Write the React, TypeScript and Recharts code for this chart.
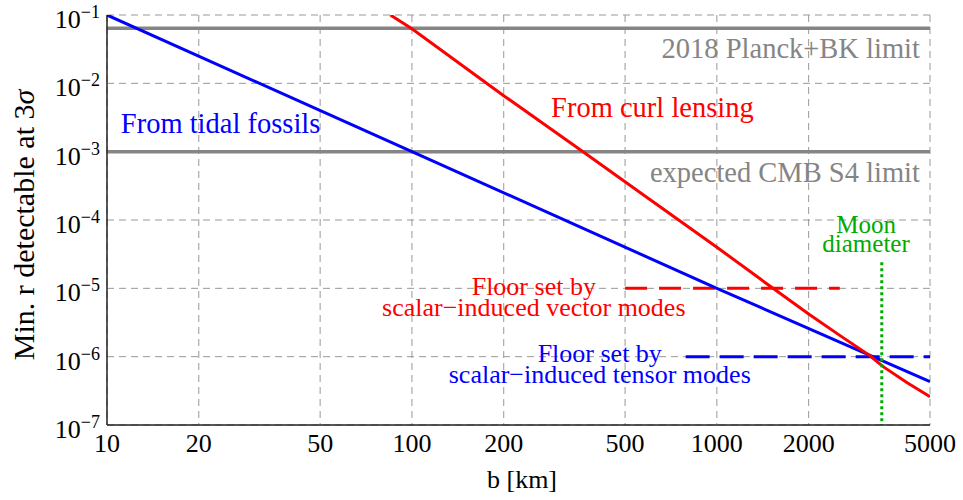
import {
  LineChart,
  Line,
  XAxis,
  YAxis,
  CartesianGrid,
  ReferenceLine,
  ReferenceDot,
} from "recharts"

// b in km, r = minimum tensor-to-scalar ratio detectable at 3 sigma
const bTicks = [10, 20, 50, 100, 200, 500, 1000, 2000, 5000]
const bMinorTicks = [30, 40, 60, 70, 80, 90, 300, 400, 600, 700, 800, 900, 3000, 4000]
const rTicks = [1e-7, 1e-6, 1e-5, 1e-4, 1e-3, 1e-2, 1e-1]
const rMantissas = [2, 3, 4, 5, 6, 7, 8, 9]
const rMinorTicks = rTicks.slice(0, -1).flatMap((d) => rMantissas.map((m) => m * d))

const tidalFossils = [
  { b: 10, r: 0.1 },
  { b: 100, r: 1e-3 },
  { b: 1000, r: 1e-5 },
  { b: 5000, r: 4.3e-7 },
]

const curlLensing = [
  { b: 85, r: 0.1 },
  { b: 100, r: 0.063 },
  { b: 200, r: 6.6e-3 },
  { b: 364, r: 1e-3 },
  { b: 603, r: 2e-4 },
  { b: 1000, r: 4e-5 },
  { b: 1528, r: 1e-5 },
  { b: 2000, r: 4.2e-6 },
  { b: 2529, r: 2.05e-6 },
  { b: 3177, r: 1.03e-6 },
  { b: 3501, r: 7.2e-7 },
  { b: 4197, r: 4.2e-7 },
  { b: 4632, r: 3.2e-7 },
  { b: 5000, r: 2.6e-7 },
]

const vectorFloor = [
  { b: 500, r: 1e-5 },
  { b: 2530, r: 1e-5 },
]

const tensorFloor = [
  { b: 790, r: 1e-6 },
  { b: 5000, r: 1e-6 },
]

const moonDiameter = [
  { b: 3474, r: 2.4e-5 },
  { b: 3474, r: 1e-7 },
]

const planckBkLimit = 0.064
const cmbS4Limit = 1e-3

const serif = '"Liberation Serif", "Times New Roman", "DejaVu Serif", serif'
const frame = "#222"
const blank = () => <g />

const XTick = ({ x, y, payload }: any) => (
  <text x={x} y={y + 27} textAnchor="middle" fontSize={26} style={{ fontFamily: serif }} fill="#000">
    {payload.value}
  </text>
)

const YTick = ({ x, y, payload }: any) => {
  const exp = Math.round(Math.log10(payload.value))
  return (
    <text x={x - 7} y={y + 13} textAnchor="end" fontSize={26} style={{ fontFamily: serif }} fill="#000">
      10
      <tspan dy={-10} fontSize={18}>
        {String(exp).replace("-", "\u2212")}
      </tspan>
    </text>
  )
}

const note =
  (lines: string[], color: string, anchor: "start" | "middle" | "end", size = 26, gap = 21) =>
  ({ viewBox }: any) => {
    const x = viewBox.x + viewBox.width / 2
    const y = viewBox.y + viewBox.height / 2
    const top = y - ((lines.length - 1) * gap) / 2
    return (
      <text
        x={x}
        y={top}
        textAnchor={anchor}
        dominantBaseline="central"
        fontSize={size}
        style={{ fontFamily: serif }}
        fill={color}
      >
        {lines.map((t, i) => (
          <tspan key={i} x={x} y={top + i * gap}>
            {t}
          </tspan>
        ))}
      </text>
    )
  }

const logX = { type: "number" as const, scale: "log" as const, domain: [10, 5000], allowDataOverflow: true }
const logY = { type: "number" as const, scale: "log" as const, domain: [1e-7, 0.1], allowDataOverflow: true }

export default function App() {
  return (
    <div style={{ position: "absolute", left: 0, top: 0, background: "#fff", fontFamily: serif }}>
      <LineChart width={963} height={500} margin={{ top: 15, right: 33, bottom: 0, left: 0 }}>
        <CartesianGrid stroke="#999" strokeDasharray="7 5" />

        <XAxis
          {...logX}
          dataKey="b"
          ticks={bTicks}
          interval={0}
          height={75}
          tickSize={0}
          tickMargin={0}
          tickLine={false}
          axisLine={{ stroke: frame, strokeWidth: 1.5 }}
          tick={XTick}
          label={{
            content: () => (
              <text x={522} y={479} textAnchor="middle" dominantBaseline="central" fontSize={26} style={{ fontFamily: serif }}>
                b [km]
              </text>
            ),
          }}
        />
        <XAxis {...logX} xAxisId="bMaj" dataKey="b" mirror height={0} ticks={bTicks} interval={0} tickSize={8} axisLine={false} tickLine={{ stroke: frame }} tick={blank} />
        <XAxis {...logX} xAxisId="bMin" dataKey="b" mirror height={0} ticks={bMinorTicks} interval={0} tickSize={4} axisLine={false} tickLine={{ stroke: frame }} tick={blank} />
        <XAxis {...logX} xAxisId="tMaj" dataKey="b" orientation="top" mirror height={0} ticks={bTicks} interval={0} tickSize={8} axisLine={{ stroke: frame, strokeWidth: 1.5 }} tickLine={{ stroke: frame }} tick={blank} />
        <XAxis {...logX} xAxisId="tMin" dataKey="b" orientation="top" mirror height={0} ticks={bMinorTicks} interval={0} tickSize={4} axisLine={false} tickLine={{ stroke: frame }} tick={blank} />

        <YAxis
          {...logY}
          dataKey="r"
          ticks={rTicks}
          interval={0}
          width={107}
          tickSize={0}
          tickMargin={0}
          tickLine={false}
          axisLine={{ stroke: frame, strokeWidth: 1.5 }}
          tick={YTick}
          label={{
            content: () => (
              <text
                x={23}
                y={225}
                transform="rotate(-90 23 225)"
                textAnchor="middle"
                dominantBaseline="central"
                fontSize={30}
                style={{ fontFamily: serif }}
              >
                Min. r detectable at 3<tspan fontStyle="italic">σ</tspan>
              </text>
            ),
          }}
        />
        <YAxis {...logY} yAxisId="lMaj" dataKey="r" mirror width={0} ticks={rTicks} interval={0} tickSize={8} axisLine={false} tickLine={{ stroke: frame }} tick={blank} />
        <YAxis {...logY} yAxisId="lMin" dataKey="r" mirror width={0} ticks={rMinorTicks} interval={0} tickSize={4} axisLine={false} tickLine={{ stroke: frame }} tick={blank} />
        <YAxis {...logY} yAxisId="rMaj" dataKey="r" orientation="right" mirror width={0} ticks={rTicks} interval={0} tickSize={8} axisLine={{ stroke: frame, strokeWidth: 1.5 }} tickLine={{ stroke: frame }} tick={blank} />
        <YAxis {...logY} yAxisId="rMin" dataKey="r" orientation="right" mirror width={0} ticks={rMinorTicks} interval={0} tickSize={4} axisLine={false} tickLine={{ stroke: frame }} tick={blank} />

        <ReferenceLine y={planckBkLimit} stroke="#858585" strokeWidth={3.5} />
        <ReferenceLine y={cmbS4Limit} stroke="#858585" strokeWidth={3.5} />

        <Line data={vectorFloor} dataKey="r" stroke="#ff0000" strokeWidth={3} strokeDasharray="22 12" dot={false} activeDot={false} isAnimationActive={false} />
        <Line data={tensorFloor} dataKey="r" stroke="#0000ff" strokeWidth={3} strokeDasharray="24 10" dot={false} activeDot={false} isAnimationActive={false} />
        <Line data={tidalFossils} dataKey="r" stroke="#0000ff" strokeWidth={3} dot={false} activeDot={false} isAnimationActive={false} />
        <Line data={curlLensing} dataKey="r" stroke="#ff0000" strokeWidth={3} dot={false} activeDot={false} isAnimationActive={false} />
        <Line data={moonDiameter} dataKey="r" stroke="#00aa00" strokeWidth={3} strokeDasharray="3 3" dot={false} activeDot={false} isAnimationActive={false} />

        <ReferenceDot x={4634} y={0.033} r={0} stroke="none" label={{ content: note(["2018 Planck+BK limit"], "#858585", "end", 28.5) }} />
        <ReferenceDot x={4634} y={5.1e-4} r={0} stroke="none" label={{ content: note(["expected CMB S4 limit"], "#858585", "end", 28.5) }} />
        <ReferenceDot x={11.1} y={2.65e-3} r={0} stroke="none" label={{ content: note(["From tidal fossils"], "#0000ff", "start", 28.5) }} />
        <ReferenceDot x={286} y={4.5e-3} r={0} stroke="none" label={{ content: note(["From curl lensing"], "#ff0000", "start", 28.5) }} />
        <ReferenceDot x={251} y={7.6e-6} r={0} stroke="none" label={{ content: note(["Floor set by", "scalar\u2212induced vector modes"], "#ff0000", "middle") }} />
        <ReferenceDot x={413} y={8.0e-7} r={0} stroke="none" label={{ content: note(["Floor set by", "scalar\u2212induced tensor modes"], "#0000ff", "middle") }} />
        <ReferenceDot x={3085} y={6.4e-5} r={0} stroke="none" label={{ content: note(["Moon", "diameter"], "#00aa00", "middle", 25, 19) }} />
      </LineChart>
    </div>
  )
}
